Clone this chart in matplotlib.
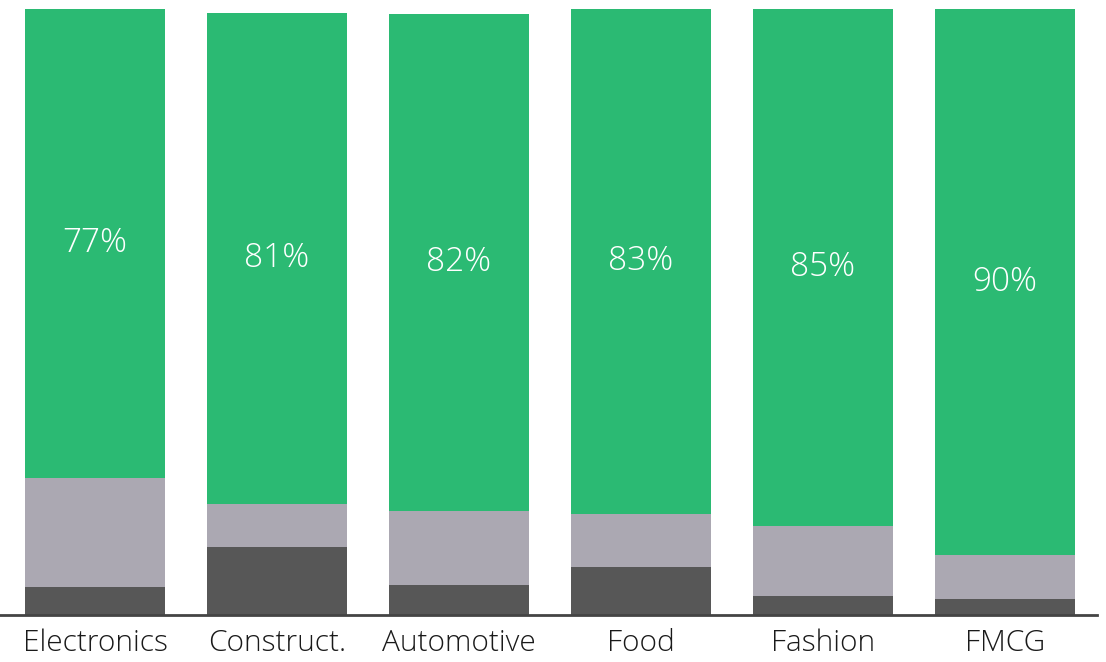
import matplotlib
matplotlib.use("Agg")
import matplotlib.pyplot as plt
import numpy as np

categories = ["Electronics", "Construct.", "Automotive", "Food", "Fashion", "FMCG"]
dark_vals = [4.6, 11.2, 5.0, 7.9, 3.1, 2.6]
gray_vals = [18.0, 7.1, 12.2, 8.8, 11.6, 7.3]
green_vals = [77.4, 81.0, 82.0, 83.3, 85.3, 90.1]
green_labels = ["77%", "81%", "82%", "83%", "85%", "90%"]

c_dark = "#575757"
c_gray = "#aba8b2"
c_green = "#2bba73"

plt.rcParams['font.family'] = ['Open Sans', 'DejaVu Sans']

fig = plt.figure(figsize=(11.06, 6.62), dpi=100)
ax = fig.add_axes([0, (662-615)/662, 1097/1106, 615/662])

x = np.arange(len(categories))
w = 0.77
dark = np.array(dark_vals)
gray = np.array(gray_vals)
green = np.array(green_vals)
ax.bar(x, dark, w, color=c_dark, zorder=2)
ax.bar(x, gray, w, bottom=dark, color=c_gray, zorder=2)
ax.bar(x, green, w, bottom=dark + gray, color=c_green, zorder=2)

for xi, b, g, lab in zip(x, dark + gray, green, green_labels):
    ax.text(xi, b + g / 2, lab, ha="center", va="center", color="white",
            fontsize=24, fontweight="light")

ax.set_xlim(-95/182, (1097-95)/182)
ax.set_ylim(0, 615/6.06)
ax.set_xticks(x)
ax.set_xticklabels(categories, fontsize=21.5, color="#1a1a1a", fontweight="light")
ax.tick_params(axis="x", length=0, pad=10)
ax.set_yticks([])
for s in ["top", "left", "right"]:
    ax.spines[s].set_visible(False)
ax.spines["bottom"].set_color("#444444")
ax.spines["bottom"].set_linewidth(2)
ax.spines["bottom"].set_zorder(3)

fig.savefig("out.png", dpi=100)
